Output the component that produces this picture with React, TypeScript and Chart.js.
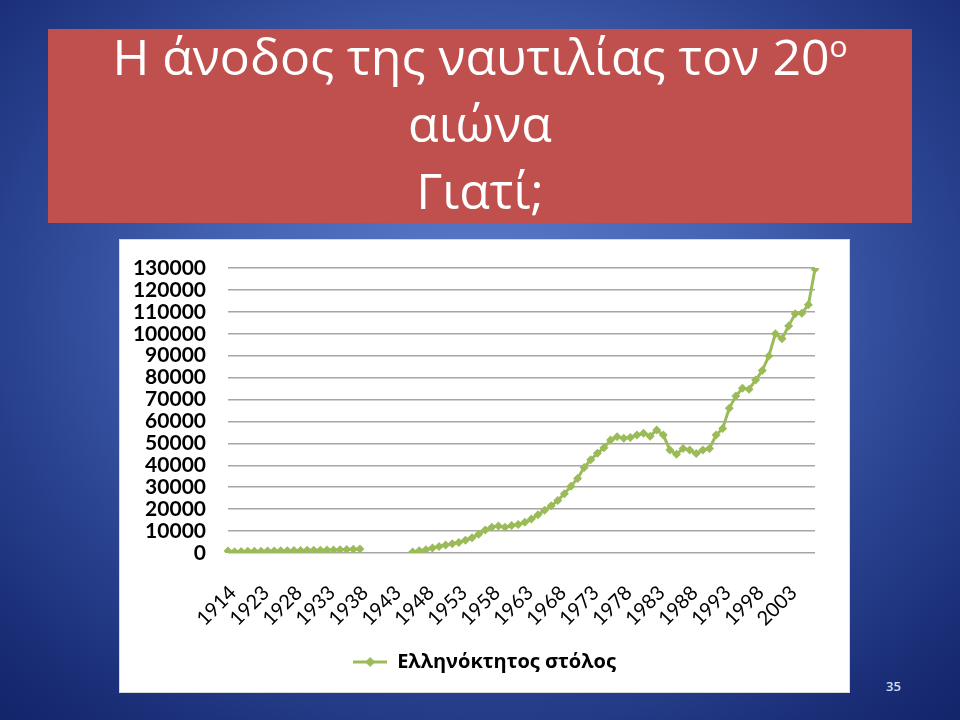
import React, { useEffect, useRef } from "react";
import { Chart, registerables } from "chart.js";

Chart.register(...registerables);

// ---- Data ----
const years: string[] = [
  "1914", "1919", "1920", "1921", "1922", "1923", "1924", "1925", "1926", "1927",
  "1928", "1929", "1930", "1931", "1932", "1933", "1934", "1935", "1936", "1937",
  "1938", "1939", "1940", "1941", "1942", "1943", "1944", "1945", "1946", "1947",
  "1948", "1949", "1950", "1951", "1952", "1953", "1954", "1955", "1956", "1957",
  "1958", "1959", "1960", "1961", "1962", "1963", "1964", "1965", "1966", "1967",
  "1968", "1969", "1970", "1971", "1972", "1973", "1974", "1975", "1976", "1977",
  "1978", "1979", "1980", "1981", "1982", "1983", "1984", "1985", "1986", "1987",
  "1988", "1989", "1990", "1991", "1992", "1993", "1994", "1995", "1996", "1997",
  "1998", "1999", "2000", "2001", "2002", "2003", "2004", "2005", "2006", "2007",
];

const fleet: (number | null)[] = [
  // 1914, 1919-1937
  900, 600, 700, 750, 800, 850, 900, 950, 1000, 1050,
  1100, 1150, 1200, 1250, 1300, 1350, 1400, 1500, 1600, 1700,
  // 1938, 1939-1945 (no data), 1946-1947
  1800, null, null, null, null, null, null, null, 500, 1000,
  // 1948-1957
  1500, 2300, 3000, 3600, 4200, 4800, 5800, 7000, 8500, 10500,
  // 1958-1967
  11800, 12300, 11800, 12500, 13000, 14000, 15500, 17500, 19500, 21500,
  // 1968-1977
  24000, 27000, 30500, 34000, 39000, 42500, 45500, 48000, 51500, 53000,
  // 1978-1987
  52300, 52700, 53800, 54600, 53300, 56100, 53800, 47000, 45000, 47700,
  // 1988-1997
  47000, 45400, 47000, 47700, 53800, 56800, 66000, 71600, 75100, 74700,
  // 1998-2007
  78900, 83200, 89900, 100000, 97700, 103600, 109100, 109400, 113200, 129500,
];

const shownYearLabels: string[] = [
  "1914", "1923", "1928", "1933", "1938", "1943", "1948", "1953", "1958",
  "1963", "1968", "1973", "1978", "1983", "1988", "1993", "1998", "2003",
];

const seriesName = "Ελληνόκτητος στόλος";
const yMin = 0;
const yMax = 130000;
const yStep = 10000;

const GREEN = "#9BBB59";

function makeLegendMarker(): HTMLCanvasElement {
  const c = document.createElement("canvas");
  c.width = 34;
  c.height = 14;
  const ctx = c.getContext("2d")!;
  ctx.strokeStyle = GREEN;
  ctx.lineWidth = 3;
  ctx.beginPath();
  ctx.moveTo(0, 7);
  ctx.lineTo(34, 7);
  ctx.stroke();
  ctx.fillStyle = GREEN;
  ctx.beginPath();
  ctx.moveTo(17, 2);
  ctx.lineTo(22, 7);
  ctx.lineTo(17, 12);
  ctx.lineTo(12, 7);
  ctx.closePath();
  ctx.fill();
  return c;
}

function FleetChart() {
  const ref = useRef<HTMLCanvasElement | null>(null);
  useEffect(() => {
    if (!ref.current) return;
    const marker = makeLegendMarker();
    const chart = new Chart(ref.current, {
      type: "line",
      data: {
        labels: years,
        datasets: [
          {
            label: seriesName,
            data: fleet,
            borderColor: GREEN,
            backgroundColor: GREEN,
            borderWidth: 3,
            pointStyle: "rectRot",
            pointRadius: 4.5,
            pointBackgroundColor: GREEN,
            pointBorderColor: GREEN,
            pointBorderWidth: 0,
            spanGaps: false,
            tension: 0,
          },
        ],
      },
      options: {
        responsive: false,
        animation: false,
        devicePixelRatio: 1,
        layout: { padding: { left: 0, right: 0, top: 28, bottom: 10 } },
        plugins: {
          tooltip: { enabled: false },
          legend: {
            position: "bottom",
            labels: {
              usePointStyle: true,
              pointStyleWidth: 34,
              padding: 10,
              color: "#000",
              font: { family: "Open Sans", size: 20, weight: "bold" },
              generateLabels: () => [
                {
                  text: seriesName,
                  fillStyle: GREEN,
                  strokeStyle: GREEN,
                  lineWidth: 0,
                  pointStyle: marker as any,
                  hidden: false,
                  datasetIndex: 0,
                  fontColor: "#000",
                } as any,
              ],
            },
          },
        },
        scales: {
          x: {
            type: "category",
            offset: false,
            grid: { display: false, drawTicks: false },
            border: { display: false },
            ticks: {
              autoSkip: false,
              minRotation: 45,
              maxRotation: 45,
              padding: 28,
              labelOffset: 5,
              color: "#000",
              font: { family: "Lato", size: 20 },
              callback: (_v: any, index: number) => {
                const y = years[index];
                return shownYearLabels.includes(y) ? y : "";
              },
            },
            afterFit: (s: any) => {
              s.height = 89;
              s.paddingLeft = 0;
              s.paddingRight = 34;
              s.paddingTop = 0;
              s.paddingBottom = 0;
            },
          },
          y: {
            min: yMin,
            max: yMax,
            ticks: {
              autoSkip: false,
              stepSize: yStep,
              padding: 22,
              color: "#000",
              font: { family: "Lato", size: 21, weight: "bold" },
              callback: (v: any) => String(v),
            },
            grid: { color: "#A6A6A6", lineWidth: 1.5, drawTicks: false },
            border: { display: false },
            afterFit: (s: any) => {
              s.width = 108;
              s.paddingTop = 0;
              s.paddingBottom = 0;
            },
          },
        },
      },
    });
    return () => chart.destroy();
  }, []);
  return <canvas ref={ref} width={729} height={452} style={{ display: "block" }} />;
}

export default function App() {
  return (
    <div
      style={{
        position: "absolute",
        left: 0,
        top: 0,
        width: 960,
        height: 720,
        overflow: "hidden",
        background:
          "radial-gradient(ellipse 75% 80% at 50% 42%, #5b7cca 0%, #4565b4 35%, #2a4390 65%, #172a72 90%, #13236a 100%)",
        fontFamily: "'Open Sans', sans-serif",
      }}
    >
      <div
        style={{
          position: "absolute",
          left: 48,
          top: 29,
          width: 864,
          height: 194,
          background: "#C0504D",
          color: "#fff",
          textAlign: "center",
          fontSize: 50,
          lineHeight: "67px",
          overflow: "visible",
        }}
      >
        <div style={{ marginTop: -6 }}>
          Η άνοδος της ναυτιλίας τον 20
          <sup style={{ fontSize: "60%", lineHeight: 0, verticalAlign: "super" }}>ο</sup>
          <br />
          αιώνα
          <br />
          Γιατί;
        </div>
      </div>
      <div
        style={{
          position: "absolute",
          left: 120,
          top: 240,
          width: 729,
          height: 452,
          background: "#fff",
          boxShadow: "0 0 0 1px #d9d9d9",
        }}
      >
        <FleetChart />
      </div>
      <div
        style={{
          position: "absolute",
          left: 886,
          top: 677,
          color: "#d6def2",
          fontSize: 13,
          fontWeight: 600,
          fontFamily: "'Open Sans', sans-serif",
        }}
      >
        35
      </div>
    </div>
  );
}
